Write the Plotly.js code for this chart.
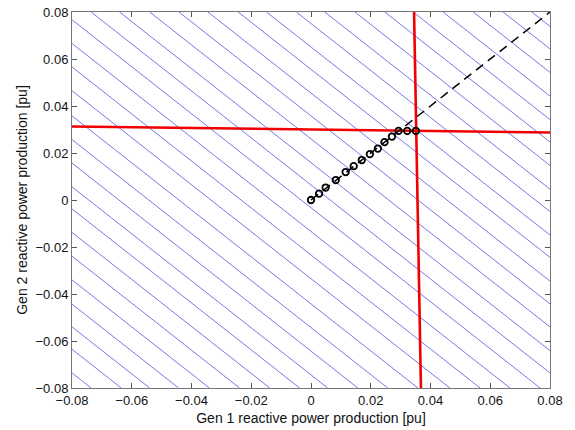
<!DOCTYPE html>
<html>
<head>
<meta charset="utf-8">
<script src="https://cdn.plot.ly/plotly-3.0.1.min.js"></script>
<style>html,body{margin:0;padding:0;background:#fff;}#chart{width:575px;height:430px;}</style>
</head>
<body>
<div id="chart"></div>
<script>
// Contour levels of the blue iso-lines (each line: x + y = level)
const blueLevels = [-0.1536, -0.1435, -0.1340, -0.1243, -0.1140, -0.1039, -0.0938, -0.0838,
  -0.0744, -0.0643, -0.0543, -0.0442, -0.0335, -0.0234, -0.0134, -0.0033,
  0.0064, 0.0159, 0.0260, 0.0358, 0.0455, 0.0556, 0.0651, 0.0751,
  0.0846, 0.0947, 0.1047, 0.1142, 0.1242, 0.1343, 0.1443, 0.1539];

// Red constraint lines
const redHX = [-0.08, 0.08];
const redHY = [0.0313, 0.0287];
const redVX = [0.0345, 0.0368];
const redVY = [0.08, -0.08];

// Dashed black direction line
const dashX = [0, 0.08];
const dashY = [0, 0.08];

// Iteration points (open circles)
const ptsX = [0.0, 0.0027, 0.0049, 0.0083, 0.0116, 0.0143, 0.0170, 0.0197, 0.0224, 0.0246, 0.0271, 0.0293, 0.0322, 0.0351];
const ptsY = [0.0, 0.0027, 0.0053, 0.0085, 0.0119, 0.0144, 0.0170, 0.0195, 0.0219, 0.0246, 0.0270, 0.0294, 0.0294, 0.0294];

const tickVals = [-0.08, -0.06, -0.04, -0.02, 0, 0.02, 0.04, 0.06, 0.08];

// Build blue iso-lines as one trace (segments separated by null)
const bx = [], by = [];
blueLevels.forEach(c => {
  bx.push(c + 0.08, c - 0.08, null);
  by.push(-0.08, 0.08, null);
});

const traces = [
  {x: bx, y: by, mode: 'lines', line: {color: 'rgb(120,120,235)', width: 1}, hoverinfo: 'skip'},
  {x: redHX, y: redHY, mode: 'lines', line: {color: 'rgb(240,0,0)', width: 2.6}},
  {x: redVX, y: redVY, mode: 'lines', line: {color: 'rgb(240,0,0)', width: 2.6}},
  {x: dashX, y: dashY, mode: 'lines', line: {color: 'black', width: 1.5, dash: '9px,6px'}},
  {x: ptsX, y: ptsY, mode: 'markers', marker: {symbol: 'circle-open', size: 6.5, color: 'black', line: {width: 1.8}}}
];

const axisCommon = {
  range: [-0.08, 0.08],
  tickvals: tickVals,
  ticks: 'inside',
  ticklen: 5,
  tickwidth: 1,
  tickcolor: '#555',
  showline: true,
  linecolor: '#777',
  linewidth: 1,
  mirror: 'ticks',
  showgrid: false,
  zeroline: false,
  tickfont: {family: 'Liberation Sans, Arial, sans-serif', size: 13, color: '#111'},
  fixedrange: true
};

const layout = {
  width: 575, height: 430,
  margin: {l: 72, r: 25, t: 12, b: 42},
  paper_bgcolor: 'white', plot_bgcolor: 'white',
  showlegend: false,
  hovermode: false,
  font: {family: 'Liberation Sans, Arial, sans-serif', size: 13, color: '#111'},
  xaxis: Object.assign({}, axisCommon, {
    title: {text: 'Gen 1 reactive power production [pu]', font: {size: 14}, standoff: 6}
  }),
  yaxis: Object.assign({}, axisCommon, {
    title: {text: 'Gen 2 reactive power production [pu]', font: {size: 14}, standoff: 4}
  })
};

Plotly.newPlot('chart', traces, layout, {displayModeBar: false, staticPlot: true});
</script>
</body>
</html>
